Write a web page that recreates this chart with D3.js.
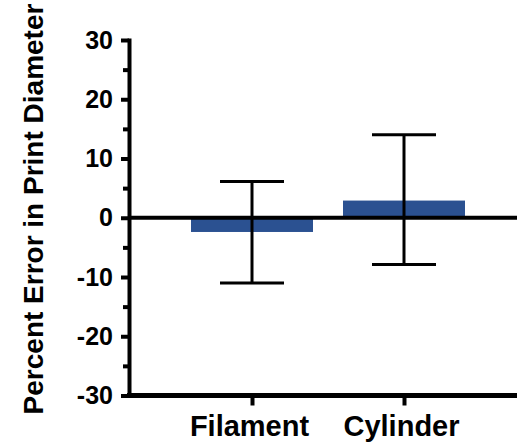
<!DOCTYPE html>
<html>
<head>
<meta charset="utf-8">
<script src="https://cdn.jsdelivr.net/npm/d3@7"></script>
<style>
  body { margin: 0; background: #fff; }
  text { font-family: "Liberation Sans", Arial, sans-serif; font-weight: bold; fill: #000; }
</style>
</head>
<body>
<div id="app"></div>
<script>
// data
const categories = ['Filament', 'Cylinder'];
const means = [-2.4, 2.9];
const errLow = [-11.0, -7.9];
const errHigh = [6.1, 14.0];
const yTicks = [-30, -20, -10, 0, 10, 20, 30];
const yMinorTicks = [-25, -15, -5, 5, 15, 25];
const yTitle = 'Percent Error in Print Diameter';

const w = 517, h = 444;
const axisX = 129;       // left axis
const right = 517;

const svg = d3.select('#app')
  .append('svg')
  .attr('width', w)
  .attr('height', h);

/////////SCALES/////////

const yScale = d3.scaleLinear()
  .domain([-30, 30])
  .range([395.5, 40]);

const xScale = d3.scalePoint()
  .domain(categories)
  .range([252, 404]);

const rows = categories.map((c, i) => ({ cat: c, mean: means[i], lo: errLow[i], hi: errHigh[i] }));

/////////BARS/////////

const barW = 122;
svg.selectAll('rect.bar')
  .data(rows)
  .enter()
  .append('rect')
  .attr('class', 'bar')
  .attr('x', d => xScale(d.cat) - barW / 2)
  .attr('width', barW)
  .attr('y', d => yScale(Math.max(0, d.mean)))
  .attr('height', d => Math.abs(yScale(d.mean) - yScale(0)))
  .attr('fill', '#2b5191');

// zero line
svg.append('line')
  .attr('x1', axisX)
  .attr('x2', right)
  .attr('y1', yScale(0))
  .attr('y2', yScale(0))
  .attr('stroke', '#000')
  .attr('stroke-width', 4);

/////////ERROR BARS/////////

const capW = 64;
const err = svg.selectAll('g.err')
  .data(rows)
  .enter()
  .append('g')
  .attr('class', 'err')
  .attr('stroke', '#000')
  .attr('stroke-width', 3);

err.append('line')
  .attr('x1', d => xScale(d.cat))
  .attr('x2', d => xScale(d.cat))
  .attr('y1', d => yScale(d.lo))
  .attr('y2', d => yScale(d.hi));

err.append('line')
  .attr('x1', d => xScale(d.cat) - capW / 2)
  .attr('x2', d => xScale(d.cat) + capW / 2)
  .attr('y1', d => yScale(d.hi))
  .attr('y2', d => yScale(d.hi));

err.append('line')
  .attr('x1', d => xScale(d.cat) - capW / 2)
  .attr('x2', d => xScale(d.cat) + capW / 2)
  .attr('y1', d => yScale(d.lo))
  .attr('y2', d => yScale(d.lo));

/////////AXES/////////

const yAxis = d3.axisLeft(yScale)
  .tickValues(yTicks)
  .tickFormat(d => String(d))
  .tickSize(8)
  .tickSizeOuter(0)
  .tickPadding(8);

const yMinor = d3.axisLeft(yScale)
  .tickValues(yMinorTicks)
  .tickSize(6)
  .tickFormat('');

svg.append('g')
  .attr('transform', 'translate(' + axisX + ',0)')
  .call(yMinor)
  .call(g => g.select('.domain').remove())
  .call(g => g.selectAll('line').attr('stroke-width', 4));

const gy = svg.append('g')
  .attr('transform', 'translate(' + axisX + ',0)')
  .call(yAxis);
gy.select('.domain').attr('stroke-width', 4).attr('stroke-linecap', 'square');
gy.selectAll('line').attr('stroke-width', 4);
gy.selectAll('text')
  .attr('font-size', 25)
  .attr('font-family', '"Liberation Sans", Arial, sans-serif')
  .attr('font-weight', 'bold');

// x baseline
svg.append('line')
  .attr('x1', axisX - 2)
  .attr('x2', right)
  .attr('y1', yScale(-30))
  .attr('y2', yScale(-30))
  .attr('stroke', '#000')
  .attr('stroke-width', 5);

const gx = svg.append('g')
  .attr('transform', 'translate(0,' + yScale(-30) + ')')
  .call(d3.axisBottom(xScale).tickSize(10).tickPadding(10));
gx.select('.domain').remove();
gx.selectAll('line').attr('stroke-width', 4);
gx.selectAll('text')
  .attr('font-size', 29)
  .attr('font-family', '"Liberation Sans", Arial, sans-serif')
  .attr('font-weight', 'bold')
  .attr('dx', -3);

/////////TITLE/////////

svg.append('text')
  .attr('transform', 'translate(43,' + 209 + ') rotate(-90)')
  .attr('text-anchor', 'middle')
  .attr('font-size', 28)
  .text(yTitle);
</script>
</body>
</html>
